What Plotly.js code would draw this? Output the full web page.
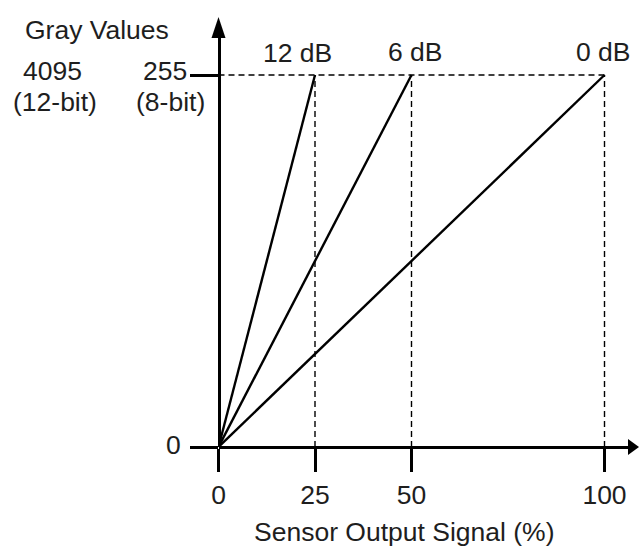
<!DOCTYPE html>
<html>
<head>
<meta charset="utf-8">
<script src="https://cdn.plot.ly/plotly-3.0.1.min.js"></script>
<style>html,body{margin:0;padding:0;background:#fff;}#chart{width:639px;height:546px;}</style>
</head>
<body>
<div id="chart"></div>
<script>
// ---- data ----
const gainLabels = ['12 dB', '6 dB', '0 dB'];
const saturationSignal = [25, 50, 100];      // sensor output (%) at which gray value saturates
const grayMax8 = 255;                        // 8-bit full scale
const grayMax12 = 4095;                      // 12-bit full scale
const xTickVals = [0, 25, 50, 100];
const xTickText = ['0', '25', '50', '100'];
const yTickVals = [0, 255];
const xTitle = 'Sensor Output Signal (%)';
const yTitle = 'Gray Values';

// ---- geometry (pixels) ----
const W = 639, H = 546;
const ox = 218.5, oy = 447;          // origin in pixels
const pxPerPct = 3.86;
const pxPerGray = (oy - 75) / 255;
const xEnd = 628, yEnd = 37;         // where axis lines meet the arrowheads
const FONT = 'Liberation Sans, Arial, sans-serif';
const FS = 26.5;
const TXT = '#1e1e1e';
const px = v => v / W, py = v => 1 - v / H;

const traces = [];
// dashed guides
traces.push({x: [0, Math.max(...saturationSignal)], y: [grayMax8, grayMax8], mode: 'lines',
  line: {color: '#000', width: 1.4, dash: '6px,4px'}, hoverinfo: 'skip', cliponaxis: false});
saturationSignal.forEach(s => traces.push({x: [s, s], y: [0, grayMax8], mode: 'lines',
  line: {color: '#000', width: 1.4, dash: '6px,4px'}, hoverinfo: 'skip', cliponaxis: false}));
// gain lines
saturationSignal.forEach((s, i) => traces.push({x: [0, s], y: [0, grayMax8], mode: 'lines',
  name: gainLabels[i], line: {color: '#000', width: 2.4}, cliponaxis: false}));

const ann = [];
const t = (text, x, y, xa) => ann.push({text, x: px(x), y: py(y), xref: 'paper', yref: 'paper',
  xanchor: xa || 'center', yanchor: 'middle', showarrow: false, font: {family: FONT, size: FS, color: TXT}});
t(yTitle, 97, 30);
t(String(grayMax12), 52, 71);
t('(12-bit)', 55, 102);
t(String(grayMax8), 189, 71, 'right');
t('(8-bit)', 170, 102);
t(String(yTickVals[0]), 173, 445);
t(gainLabels[0], 297, 53);
t(gainLabels[1], 415, 52);
t(gainLabels[2], 603, 52);
t(xTitle, 404, 532);

const shapes = [
  {type: 'path', xref: 'paper', yref: 'paper', fillcolor: '#000', line: {width: 0},
   path: `M${px(xEnd)},${py(oy - 8)} L${px(W)},${py(oy)} L${px(xEnd)},${py(oy + 8)} Z`},
  {type: 'path', xref: 'paper', yref: 'paper', fillcolor: '#000', line: {width: 0},
   path: `M${px(ox - 7)},${py(yEnd + 1)} L${px(ox)},${py(17)} L${px(ox + 7)},${py(yEnd + 1)} Z`}
];

const layout = {
  width: W, height: H, margin: {l: 0, r: 0, t: 0, b: 0},
  paper_bgcolor: '#fff', plot_bgcolor: 'rgba(0,0,0,0)', showlegend: false,
  xaxis: {domain: [px(ox), px(xEnd)], range: [0, (xEnd - ox) / pxPerPct], anchor: 'free', position: (H - oy) / H,
    showline: true, linewidth: 3, linecolor: '#000', showgrid: false, zeroline: false,
    ticks: 'outside', ticklen: 23, tickwidth: 3, tickcolor: '#000',
    tickvals: xTickVals, ticktext: xTickText, tickfont: {family: FONT, size: FS, color: TXT}, fixedrange: true},
  yaxis: {domain: [(H - oy) / H, (H - yEnd) / H], range: [0, (oy - yEnd) / pxPerGray], anchor: 'free', position: ox / W,
    showline: true, linewidth: 3, linecolor: '#000', showgrid: false, zeroline: false,
    ticks: 'outside', ticklen: 28, tickwidth: 3, tickcolor: '#000',
    tickvals: yTickVals, showticklabels: false, fixedrange: true},
  annotations: ann, shapes: shapes
};
Plotly.newPlot('chart', traces, layout, {displayModeBar: false, staticPlot: true});
</script>
</body>
</html>
